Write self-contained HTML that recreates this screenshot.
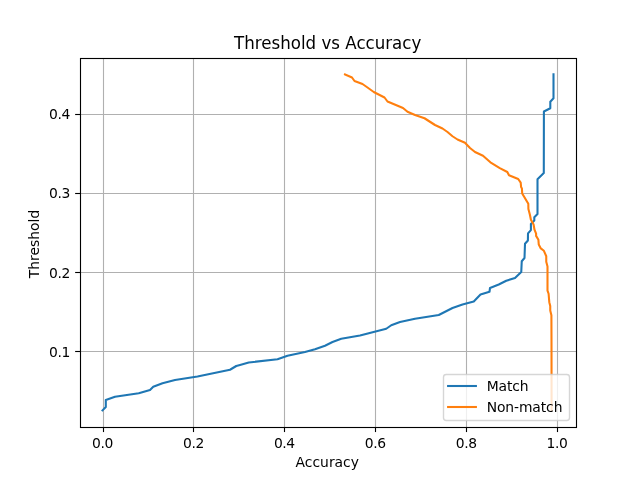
<!DOCTYPE html>
<html lang="en"><head><meta charset="utf-8"><title>Threshold vs Accuracy</title>
<style>html,body{margin:0;padding:0;background:#fff;width:640px;height:480px;overflow:hidden}svg{display:block}text{font-family:"DejaVu Sans","Liberation Sans",sans-serif;fill:#000}</style></head><body>
<svg width="640" height="480" viewBox="0 0 640 480">
<rect width="640" height="480" fill="#fff"/>
<clipPath id="c"><rect x="80" y="57.6" width="496" height="369.6"/></clipPath>
<g stroke="#b0b0b0" stroke-width="1.11" fill="none">
<line x1="103.5" x2="103.5" y1="58.5" y2="427.5"/>
<line x1="193.5" x2="193.5" y1="58.5" y2="427.5"/>
<line x1="284.5" x2="284.5" y1="58.5" y2="427.5"/>
<line x1="375.5" x2="375.5" y1="58.5" y2="427.5"/>
<line x1="466.5" x2="466.5" y1="58.5" y2="427.5"/>
<line x1="557.5" x2="557.5" y1="58.5" y2="427.5"/>
<line x1="80.5" x2="576.5" y1="351.5" y2="351.5"/>
<line x1="80.5" x2="576.5" y1="272.5" y2="272.5"/>
<line x1="80.5" x2="576.5" y1="193.5" y2="193.5"/>
<line x1="80.5" x2="576.5" y1="114.5" y2="114.5"/>
</g>
<g stroke="#000" stroke-width="1.11" fill="none">
<line x1="103.5" x2="103.5" y1="427.20" y2="432.06"/>
<line x1="193.5" x2="193.5" y1="427.20" y2="432.06"/>
<line x1="284.5" x2="284.5" y1="427.20" y2="432.06"/>
<line x1="375.5" x2="375.5" y1="427.20" y2="432.06"/>
<line x1="466.5" x2="466.5" y1="427.20" y2="432.06"/>
<line x1="557.5" x2="557.5" y1="427.20" y2="432.06"/>
<line x1="75.14" x2="80.00" y1="351.5" y2="351.5"/>
<line x1="75.14" x2="80.00" y1="272.5" y2="272.5"/>
<line x1="75.14" x2="80.00" y1="193.5" y2="193.5"/>
<line x1="75.14" x2="80.00" y1="114.5" y2="114.5"/>
</g>
<g clip-path="url(#c)" fill="none" stroke-width="2.083" stroke-linejoin="round" stroke-linecap="square">
<polyline stroke="#1f77b4" points="102.50,410.40 105.80,407.00 105.80,400.00 115.00,396.75 138.75,393.25 150.00,390.00 153.25,386.75 162.50,383.25 175.00,380.00 197.50,376.50 230.00,369.75 236.25,366.00 240.00,365.00 248.75,362.50 277.50,359.25 287.50,355.75 305.00,352.00 315.00,349.25 325.00,345.75 332.50,342.00 341.25,338.75 360.00,335.50 386.25,328.75 391.25,325.25 400.00,322.00 415.00,318.75 438.75,315.00 452.50,308.00 462.50,304.50 473.75,301.50 480.50,294.50 489.50,291.75 490.00,288.00 498.75,284.50 506.25,280.75 515.00,278.00 521.25,272.00 521.75,261.25 524.50,258.00 525.00,243.75 527.90,240.50 528.00,233.40 530.90,230.10 530.90,223.90 534.30,220.50 534.30,217.20 537.50,214.00 537.50,179.25 543.80,173.00 543.90,111.50 550.30,108.30 550.30,101.70 553.50,98.30 553.50,74.40"/>
<polyline stroke="#ff7f0e" points="345.00,74.40 352.00,77.50 354.50,81.00 362.50,84.00 367.50,87.50 373.75,92.00 384.50,97.50 387.50,101.50 403.00,108.00 407.50,111.75 415.00,115.00 424.50,118.25 435.00,125.00 442.50,128.50 447.50,132.00 452.50,136.25 457.50,139.50 465.00,142.75 470.00,148.00 475.00,152.00 483.00,155.75 490.40,162.30 499.80,168.10 507.30,172.00 509.00,175.30 518.20,179.00 520.70,182.60 521.10,187.00 521.90,188.40 522.20,193.50 528.30,203.75 528.40,208.90 529.90,214.70 530.90,219.80 533.60,224.60 534.50,229.70 536.10,233.60 536.10,235.90 538.40,239.80 538.75,244.50 540.80,248.40 543.90,250.80 546.25,256.25 546.25,261.70 547.50,266.40 547.50,290.60 548.60,293.75 549.30,302.20 550.25,306.00 550.25,310.60 551.40,315.30 551.50,340.00 551.60,410.40"/>
</g>
<rect x="80.5" y="58.5" width="496.0" height="369.0" fill="none" stroke="#000" stroke-width="1.11" stroke-linejoin="miter"/>
<g font-size="13.889px" letter-spacing="-0.4">
<text x="102.55" y="448.00" text-anchor="middle">0.0</text>
<text x="193.44" y="448.00" text-anchor="middle">0.2</text>
<text x="284.35" y="448.00" text-anchor="middle">0.4</text>
<text x="375.25" y="448.00" text-anchor="middle">0.6</text>
<text x="466.15" y="448.00" text-anchor="middle">0.8</text>
<text x="557.04" y="448.00" text-anchor="middle">1.0</text>
</g><g font-size="13.889px" letter-spacing="-0.35">
<text x="69.98" y="357" text-anchor="end">0.1</text>
<text x="69.98" y="278" text-anchor="end">0.2</text>
<text x="69.98" y="198" text-anchor="end">0.3</text>
<text x="69.98" y="119" text-anchor="end">0.4</text>
</g><g font-size="13.889px">
<text x="327.3" y="467" text-anchor="middle">Accuracy</text>
<text transform="translate(39,244) rotate(-90)" text-anchor="middle">Threshold</text>
</g>
<text transform="translate(327.70,49) scale(1,1.075)" text-anchor="middle" font-size="16.667px" letter-spacing="0">Threshold vs Accuracy</text>
<rect x="443.5" y="374.5" width="126" height="46" rx="2.78" ry="2.78" fill="#fff" fill-opacity="0.8" stroke="#ccc" stroke-opacity="0.8" stroke-width="1.39"/>
<g fill="none" stroke-width="2.083" stroke-linecap="square"><line x1="448.11" x2="475.89" y1="386" y2="386" stroke="#1f77b4"/><line x1="448.11" x2="475.89" y1="407" y2="407" stroke="#ff7f0e"/></g>
<g font-size="13.889px" letter-spacing="-0.1"><text x="486.70" y="391">Match</text><text x="486.70" y="412">Non-match</text></g>
</svg></body></html>
